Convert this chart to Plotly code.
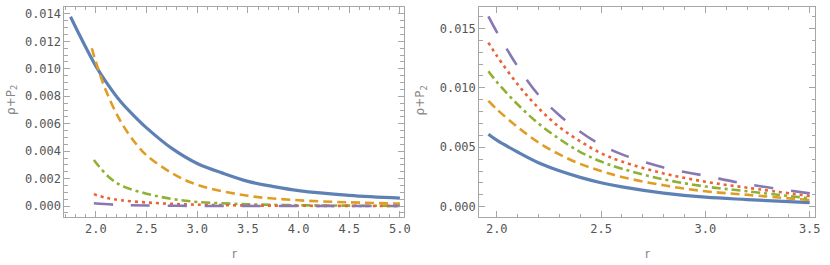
import plotly.graph_objects as go

# ---- left panel data ----
r_blue_L = [1.75, 1.85, 2.0, 2.1, 2.25, 2.4, 2.5, 2.75, 3.0, 3.25, 3.5, 3.75, 4.0, 4.5, 5.0]
v_blue_L = [0.0138, 0.0123, 0.0102, 0.00905, 0.00756, 0.0064, 0.0057, 0.0042, 0.0031, 0.0024, 0.0018, 0.00142, 0.00112, 0.00078, 0.00058]

r_orange_L = [1.96, 2.0, 2.1, 2.25, 2.4, 2.5, 2.75, 3.0, 3.5, 4.0, 4.5, 5.0]
v_orange_L = [0.0115, 0.0105, 0.0084, 0.0061, 0.0045, 0.0037, 0.0024, 0.00155, 0.00075, 0.00042, 0.00027, 0.00018]

r_green_L = [1.98, 2.03, 2.13, 2.25, 2.5, 2.75, 3.0, 3.5, 4.0, 4.5, 5.0]
v_green_L = [0.00336, 0.0029, 0.0021, 0.0015, 0.0009, 0.00052, 0.0003, 0.00013, 0.00006, 0.00003, 0.00001]

r_red_L = [1.98, 2.1, 2.25, 2.5, 2.75, 3.0, 3.5, 4.0, 4.5, 5.0]
v_red_L = [0.00087, 0.0006, 0.00042, 0.00026, 0.00016, 0.0001, 0.00004, 0.00002, 0.00001, 0.0]

r_purple_L = [1.98, 2.2, 2.5, 3.0, 3.5, 4.0, 4.5, 5.0]
v_purple_L = [0.0002, 0.00009, 0.00004, 0.00001, 0.0, 0.0, 0.0, 0.0]

# ---- right panel data ----
r_R = [1.96, 2.0, 2.1, 2.2, 2.3, 2.4, 2.5, 2.6, 2.8, 3.0, 3.2, 3.5]
v_blue_R = [0.0061, 0.0056, 0.0046, 0.0037, 0.00302, 0.00247, 0.00202, 0.00167, 0.00115, 0.0008, 0.0006, 0.00034]
v_orange_R = [0.0089, 0.0082, 0.0067, 0.0054, 0.0044, 0.0036, 0.0030, 0.0025, 0.0018, 0.0013, 0.0010, 0.00056]
v_green_R = [0.0114, 0.0105, 0.0086, 0.0070, 0.0057, 0.0046, 0.0038, 0.0032, 0.0023, 0.0017, 0.0013, 0.0007]
v_red_R = [0.0138, 0.0127, 0.0103, 0.0083, 0.0067, 0.0055, 0.0045, 0.0038, 0.0028, 0.0021, 0.0016, 0.0009]
v_purple_R = [0.0160, 0.0147, 0.0118, 0.0094, 0.0077, 0.0063, 0.0052, 0.0044, 0.0033, 0.0026, 0.0019, 0.00112]

x_title = "r"
y_title = "ρ+P<sub>2</sub>"

BLUE = "#5E81B5"
ORANGE = "#E19C24"
GREEN = "#8FB032"
RED = "#EB6235"
PURPLE = "#8778B3"

styles = [
    (BLUE, 3.2, "solid"),
    (ORANGE, 2.6, "9px,5px"),
    (GREEN, 2.6, "9px,4px,3px,4px"),
    (RED, 2.6, "3px,4px"),
    (PURPLE, 2.6, "19px,18px"),
]

fig = go.Figure()

left_sets = [(r_blue_L, v_blue_L), (r_orange_L, v_orange_L), (r_green_L, v_green_L),
             (r_red_L, v_red_L), (r_purple_L, v_purple_L)]
right_sets = [(r_R, v_blue_R), (r_R, v_orange_R), (r_R, v_green_R), (r_R, v_red_R), (r_R, v_purple_R)]

for (xs, ys), (c, w, d) in zip(left_sets, styles):
    fig.add_trace(go.Scatter(x=xs, y=ys, mode="lines", line=dict(color=c, width=w, dash=d, shape="spline", smoothing=1.0),
                             xaxis="x", yaxis="y", showlegend=False, hoverinfo="skip"))
for (xs, ys), (c, w, d) in zip(right_sets, styles):
    fig.add_trace(go.Scatter(x=xs, y=ys, mode="lines", line=dict(color=c, width=w, dash=d, shape="spline", smoothing=1.0),
                             xaxis="x2", yaxis="y2", showlegend=False, hoverinfo="skip"))

FRAME = "#a6a6a6"
TICKFONT = dict(family="DejaVu Sans Mono", size=12, color="#555555")

def ax(domain, rng, dtick, minor_dtick, fmt, anchor):
    return dict(domain=domain, range=rng, dtick=dtick, tick0=0, tickformat=fmt,
                showgrid=False, zeroline=False, showline=True, linecolor=FRAME, linewidth=1,
                mirror="allticks", ticks="inside", ticklen=6, tickcolor=FRAME, tickwidth=1,
                minor=dict(dtick=minor_dtick, tick0=0, ticks="inside", ticklen=3.5, tickcolor=FRAME, tickwidth=1, showgrid=False),
                tickfont=TICKFONT, anchor=anchor)

yd = [1 - 217.3 / 265, 1 - 6.7 / 265]
fig.update_layout(
    width=830, height=265,
    margin=dict(l=0, r=0, t=0, b=0),
    paper_bgcolor="white", plot_bgcolor="white",
    xaxis=ax([65 / 830, 407 / 830], [1.69, 5.036], 0.5, 0.1, ".1f", "y"),
    yaxis=ax(yd, [-0.00082, 0.01453], 0.002, 0.0005, ".3f", "x"),
    xaxis2=ax([483.3 / 830, 822.3 / 830], [1.916, 3.527], 0.5, 0.1, ".1f", "y2"),
    yaxis2=ax(yd, [-0.00089, 0.01682], 0.005, 0.001, ".3f", "x2"),
)

TITLEFONT = dict(family="DejaVu Sans", size=12, color="#888888")
ann = [
    dict(x=236 / 830, y=1 - 254 / 265, text=x_title, textangle=0),
    dict(x=653 / 830, y=1 - 254 / 265, text=x_title, textangle=0),
    dict(x=12 / 830, y=1 - 100 / 265, text=y_title, textangle=-90),
    dict(x=425 / 830, y=1 - 100 / 265, text=y_title, textangle=-90),
]
for a in ann:
    fig.add_annotation(xref="paper", yref="paper", showarrow=False, font=TITLEFONT,
                       xanchor="center", yanchor="middle", **a)

fig.write_html("out.html", config={"displayModeBar": False},
               post_script="document.body.style.margin='0';document.body.style.overflow='hidden';")
